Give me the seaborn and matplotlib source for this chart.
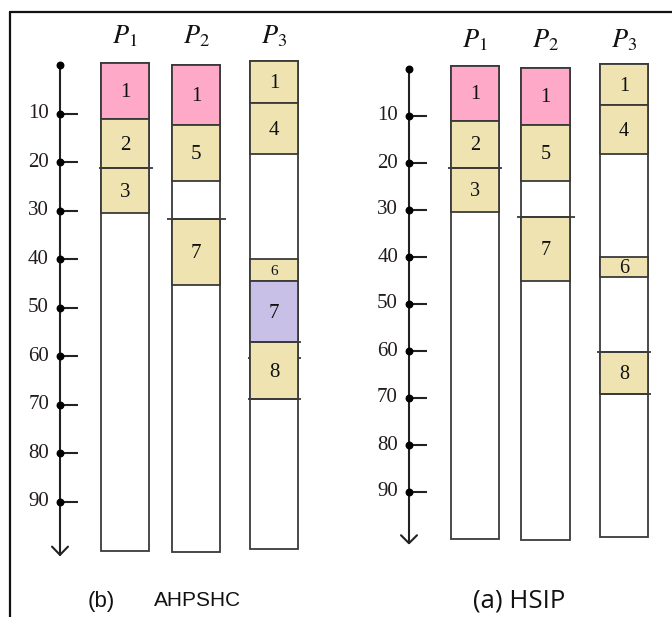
import matplotlib
matplotlib.use("Agg")
import matplotlib.pyplot as plt
from matplotlib.lines import Line2D
import seaborn as sns

sns.set_style("white")
plt.rcParams['mathtext.fontset'] = 'stix'

# ---------------- data ----------------
processors = ["P1", "P2", "P3"]
proc_labels = [r"$P_1$", r"$P_2$", r"$P_3$"]
time_ticks = [10, 20, 30, 40, 50, 60, 70, 80, 90]

# (b) AHPSHC schedule
b_bar_top = [-0.6, -0.2, -0.9]
b_bar_end = [100.0, 100.3, 99.7]
b_proc = ["P1", "P1", "P1", "P2", "P2", "P2", "P3", "P3", "P3", "P3", "P3"]
b_task = ["1", "2", "3", "1", "5", "7", "1", "4", "6", "7", "8"]
b_start = [-0.6, 11.1, 21.1, -0.2, 12.2, 31.6, -0.9, 7.8, 40.0, 44.4, 57.1]
b_end = [11.1, 21.1, 30.5, 12.2, 23.9, 45.3, 7.8, 18.3, 44.4, 57.1, 68.8]
b_kind = ["pink", "tan", "tan", "pink", "tan", "tan", "tan", "tan", "tan", "purple", "tan"]
b_mark_proc = ["P1", "P2", "P3", "P3", "P3"]
b_mark_time = [21.1, 31.6, 57.1, 60.3, 68.8]

# (a) HSIP schedule
a_bar_top = [-0.7, -0.3, -1.0]
a_bar_end = [100.0, 100.2, 99.6]
a_proc = ["P1", "P1", "P1", "P2", "P2", "P2", "P3", "P3", "P3", "P3"]
a_task = ["1", "2", "3", "1", "5", "7", "1", "4", "6", "8"]
a_start = [-0.7, 11.1, 21.0, -0.3, 12.0, 31.5, -1.0, 7.7, 40.0, 60.3]
a_end = [11.1, 21.0, 30.4, 12.0, 23.9, 45.1, 7.7, 18.1, 44.2, 69.2]
a_kind = ["pink", "tan", "tan", "pink", "tan", "tan", "tan", "tan", "tan", "tan"]
a_mark_proc = ["P1", "P2", "P3", "P3"]
a_mark_time = [21.0, 31.5, 60.3, 69.2]

# ---------------- style / layout ----------------
COLORS = {"pink": "#FFA9C8", "tan": "#EFE4B1", "purple": "#C8C0E6"}
EDGE = "#3a3a3a"
W, H = 672, 617
serif = "Liberation Serif"

fig = plt.figure(figsize=(W / 100, H / 100), dpi=100)


def make_axes(x0, x1, t0_px, px_per_unit):
    ylo, yhi = -12, 105
    top_px = t0_px + ylo * px_per_unit
    bot_px = t0_px + yhi * px_per_unit
    ax = fig.add_axes([x0 / W, 1 - bot_px / H, (x1 - x0) / W, (bot_px - top_px) / H])
    ax.set_xlim(x0, x1)
    ax.set_ylim(yhi, ylo)
    ax.axis("off")
    return ax


def draw_panel(ax, axis_x, bar_cx, bar_w, bar_top, bar_end, proc, task, start, end, kind,
               mark_proc, mark_time, mark_style, label_fs, small_fs):
    pos = dict(zip(processors, bar_cx))
    # time axis
    ax.plot([axis_x, axis_x], [0, 100.9], color="#222222", lw=1.5, zorder=3)
    ax.plot([axis_x - 8, axis_x, axis_x + 8], [99.2, 100.9, 99.2], color="#222222", lw=1.5, zorder=3)
    ax.scatter([axis_x] * (len(time_ticks) + 1), [0] + time_ticks, s=22, color="black", zorder=4)
    ax.hlines(time_ticks, axis_x, axis_x + 18, color="#222222", lw=1.5, zorder=3)
    for t in time_ticks:
        ax.text(axis_x - 11, t, str(t), ha="right", va="center", fontsize=15,
                family=serif, color="#221c1c")
    # processor columns
    ax.bar(bar_cx, [e - t for t, e in zip(bar_top, bar_end)], bottom=bar_top, width=bar_w,
           color="white", edgecolor=EDGE, linewidth=1.3, zorder=1)
    for lab, cx in zip(proc_labels, bar_cx):
        ax.text(cx, -6.1, lab, ha="center", va="center", fontsize=19, color="#111111")
    # tasks
    for p, tk, s, e, k in zip(proc, task, start, end, kind):
        ax.bar(pos[p], e - s, bottom=s, width=bar_w, color=COLORS[k], edgecolor=EDGE,
               linewidth=1.3, zorder=2)
        fs = small_fs if (e - s) < 6 else label_fs
        ax.text(pos[p], (s + e) / 2 + 0.3, tk, ha="center", va="center", fontsize=fs,
                family=serif, color="#111111", zorder=5)
    # separator marks extending beyond the columns
    for p, t, (el, er, through) in zip(mark_proc, mark_time, mark_style):
        l = pos[p] - bar_w / 2
        r = pos[p] + bar_w / 2
        if through:
            ax.hlines(t, l - el, r + er, color=EDGE, lw=1.3, zorder=3)
        else:
            ax.hlines([t, t], [l - el, r], [l, r + er], color=EDGE, lw=1.3, zorder=3)


# left panel (b) AHPSHC
axL = make_axes(10, 336, 65.5, 4.85)
draw_panel(axL, 60, [125, 196, 274], 48, b_bar_top, b_bar_end, b_proc, b_task, b_start, b_end,
           b_kind, b_mark_proc, b_mark_time,
           [(2, 4, True), (5, 6, True), (0, 3, True), (2, 3, False), (2, 3, True)],
           15, 11)

# right panel (a) HSIP
axR = make_axes(336, 672, 69, 4.7)
draw_panel(axR, 409, [475, 545.5, 624], 48.5, a_bar_top, a_bar_end, a_proc, a_task, a_start, a_end,
           a_kind, a_mark_proc, a_mark_time,
           [(3, 3, True), (4, 5, True), (3, 3, True), (0, 3, True)],
           14.5, 14.5)

# captions
fig.text(101.5 / W, 1 - 601 / H, "(b)", ha="center", va="center", fontsize=16,
         family="Liberation Sans", color="#111111")
fig.text(198 / W, 1 - 600 / H, "AHPSHC", ha="center", va="center", fontsize=15,
         family="Liberation Sans", color="#111111")
fig.text(519 / W, 1 - 601 / H, "(a) HSIP", ha="center", va="center", fontsize=18.5,
         family="Open Sans", color="#111111")

# frame (top and left edges)
fig.add_artist(Line2D([10 / W, 1], [1 - 12 / H, 1 - 12 / H], transform=fig.transFigure,
                      color="#111111", lw=1.6))
fig.add_artist(Line2D([10 / W, 10 / W], [1 - 12 / H, 0], transform=fig.transFigure,
                      color="#111111", lw=1.6))

fig.savefig("out.png", dpi=100, facecolor="white")
